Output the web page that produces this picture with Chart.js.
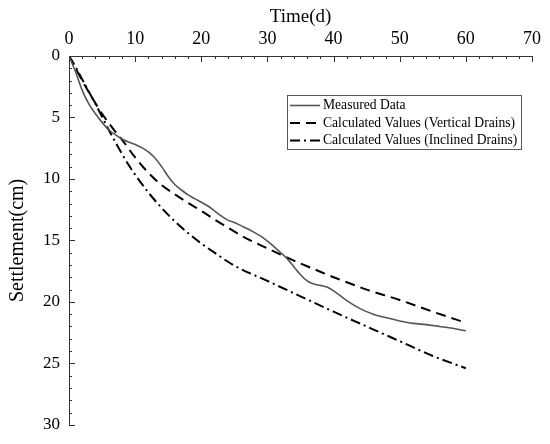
<!DOCTYPE html>
<html>
<head>
<meta charset="utf-8">
<script src="https://cdn.jsdelivr.net/npm/chart.js@4.4.1/dist/chart.umd.min.js"></script>
<style>
  html, body { margin: 0; padding: 0; background: #fff; }
  #wrap { width: 550px; height: 444px; }
</style>
</head>
<body>
<div id="wrap"><canvas id="c"></canvas></div>
<script>
// settlement curves
const measuredT = [0, 1, 2, 3, 4, 5, 6, 7, 8, 9, 10, 11, 12, 13, 14, 15, 16, 17, 18, 19, 20, 21, 22, 23, 24, 25, 26, 27, 28, 29, 30, 31, 32, 33, 34, 35, 36, 37, 38, 39, 40, 42, 44, 46, 48, 50, 52, 54, 56, 58, 60];
const measuredS = [0, 1.3, 2.8, 3.9, 4.7, 5.4, 6.0, 6.4, 6.75, 7.0, 7.2, 7.45, 7.8, 8.3, 9.0, 9.8, 10.45, 10.9, 11.3, 11.6, 11.9, 12.2, 12.6, 13.0, 13.35, 13.55, 13.8, 14.05, 14.35, 14.65, 15.05, 15.5, 16.0, 16.5, 17.15, 17.8, 18.3, 18.55, 18.66, 18.8, 19.1, 19.9, 20.55, 21.0, 21.3, 21.55, 21.75, 21.85, 22.0, 22.15, 22.35];

const verticalT = [0, 1, 2, 3, 4, 5, 6, 7, 8, 10, 12, 14, 16, 18, 20, 22, 24, 26, 28, 30, 32, 34, 36, 38, 40, 42, 45, 50, 55, 60];
const verticalS = [0, 1.0, 2.0, 2.95, 3.85, 4.7, 5.45, 6.15, 6.8, 8.25, 9.5, 10.5, 11.25, 11.95, 12.6, 13.3, 13.95, 14.6, 15.15, 15.65, 16.15, 16.65, 17.1, 17.55, 18.0, 18.4, 19.0, 19.85, 20.8, 21.7];

const inclinedT = [0, 1, 2, 3, 4, 5, 6, 7, 8, 9, 10, 12, 14, 16, 18, 20, 22, 25, 30, 35, 40, 45, 50, 55, 60];
const inclinedS = [0, 0.9, 1.9, 2.9, 3.9, 4.95, 6.0, 7.0, 7.95, 8.85, 9.65, 11.1, 12.35, 13.45, 14.4, 15.25, 16.0, 17.05, 18.3, 19.55, 20.8, 22.0, 23.2, 24.4, 25.4];

const xTicks = [0, 10, 20, 30, 40, 50, 60, 70];
const yTicks = [0, 5, 10, 15, 20, 25, 30];

const serif = '"Liberation Serif", "Times New Roman", serif';

function pts(ts, ss) {
  return ts.map((t, i) => ({ x: t, y: ss[i] }));
}

// inward tick marks (major + minor) and the boxed legend
const extras = {
  id: 'extras',
  afterDraw(chart) {
    const ctx = chart.ctx;
    const xs = chart.scales.x, ys = chart.scales.y;
    const top = ys.getPixelForValue(0), left = xs.getPixelForValue(0);
    ctx.save();
    ctx.strokeStyle = '#333';
    ctx.lineWidth = 1;
    ctx.beginPath();
    for (let v = 0; v <= 70; v += 2) {
      const px = Math.round(xs.getPixelForValue(v)) + 0.5;
      ctx.moveTo(px, top);
      ctx.lineTo(px, top + (v % 10 === 0 ? 6 : 3));
    }
    for (let v = 0; v <= 30; v += 1) {
      const py = Math.round(ys.getPixelForValue(v)) + 0.5;
      ctx.moveTo(left, py);
      ctx.lineTo(left + (v % 5 === 0 ? 6 : 3), py);
    }
    ctx.stroke();

    // legend
    const bx = 287, by = 95, bw = 234, bh = 54;
    ctx.fillStyle = '#fff';
    ctx.fillRect(bx, by, bw, bh);
    ctx.strokeStyle = '#555';
    ctx.strokeRect(bx + 0.5, by + 0.5, bw, bh);
    ctx.font = '13.6px ' + serif;
    ctx.textBaseline = 'middle';
    chart.data.datasets.forEach((ds, i) => {
      const y = by + 10.5 + i * 17.5;
      ctx.strokeStyle = ds.borderColor;
      ctx.lineWidth = ds.borderWidth;
      ctx.setLineDash(ds.borderDash || []);
      ctx.beginPath();
      ctx.moveTo(bx + 3, y);
      ctx.lineTo(bx + 33, y);
      ctx.stroke();
      ctx.setLineDash([]);
      ctx.fillStyle = '#000';
      ctx.fillText(ds.label, bx + 36, y);
    });
    ctx.restore();
  }
};

new Chart(document.getElementById('c'), {
  type: 'line',
  data: {
    datasets: [
      { label: 'Measured Data', data: pts(measuredT, measuredS), borderColor: '#555', borderWidth: 1.6, borderDash: [] },
      { label: 'Calculated Values (Vertical Drains)', data: pts(verticalT, verticalS), borderColor: '#000', borderWidth: 2, borderDash: [10, 6] },
      { label: 'Calculated Values (Inclined Drains)', data: pts(inclinedT, inclinedS), borderColor: '#000', borderWidth: 2, borderDash: [10, 4, 2, 4] }
    ]
  },
  options: {
    responsive: true,
    maintainAspectRatio: false,
    animation: false,
    layout: { padding: { left: 0, top: 0, right: 18, bottom: 14 } },
    elements: {
      point: { radius: 0 },
      line: { cubicInterpolationMode: 'monotone', fill: false }
    },
    plugins: { legend: { display: false }, tooltip: { enabled: false } },
    scales: {
      x: {
        type: 'linear',
        position: 'top',
        min: 0, max: 70,
        afterBuildTicks(s) { s.ticks = xTicks.map(v => ({ value: v })); },
        afterFit(s) { s.height = 56; },
        grid: { display: true, drawOnChartArea: false, drawTicks: false },
        border: { display: true, color: '#333', width: 1 },
        ticks: { padding: 6, color: '#000', font: { family: serif, size: 18 } },
        title: { display: true, text: 'Time(d)', color: '#000', padding: { top: 6 }, font: { family: serif, size: 19 } }
      },
      y: {
        type: 'linear',
        reverse: true,
        min: 0, max: 30,
        afterBuildTicks(s) { s.ticks = yTicks.map(v => ({ value: v })); },
        afterFit(s) { s.width = 69; },
        grid: { display: true, drawOnChartArea: false, drawTicks: false },
        border: { display: true, color: '#333', width: 1 },
        ticks: { padding: 9, color: '#000', font: { family: serif, size: 17 } },
        title: { display: true, text: 'Settlement(cm)', color: '#000', padding: { top: 6 }, font: { family: serif, size: 20 } }
      }
    }
  },
  plugins: [extras]
});
</script>
</body>
</html>
